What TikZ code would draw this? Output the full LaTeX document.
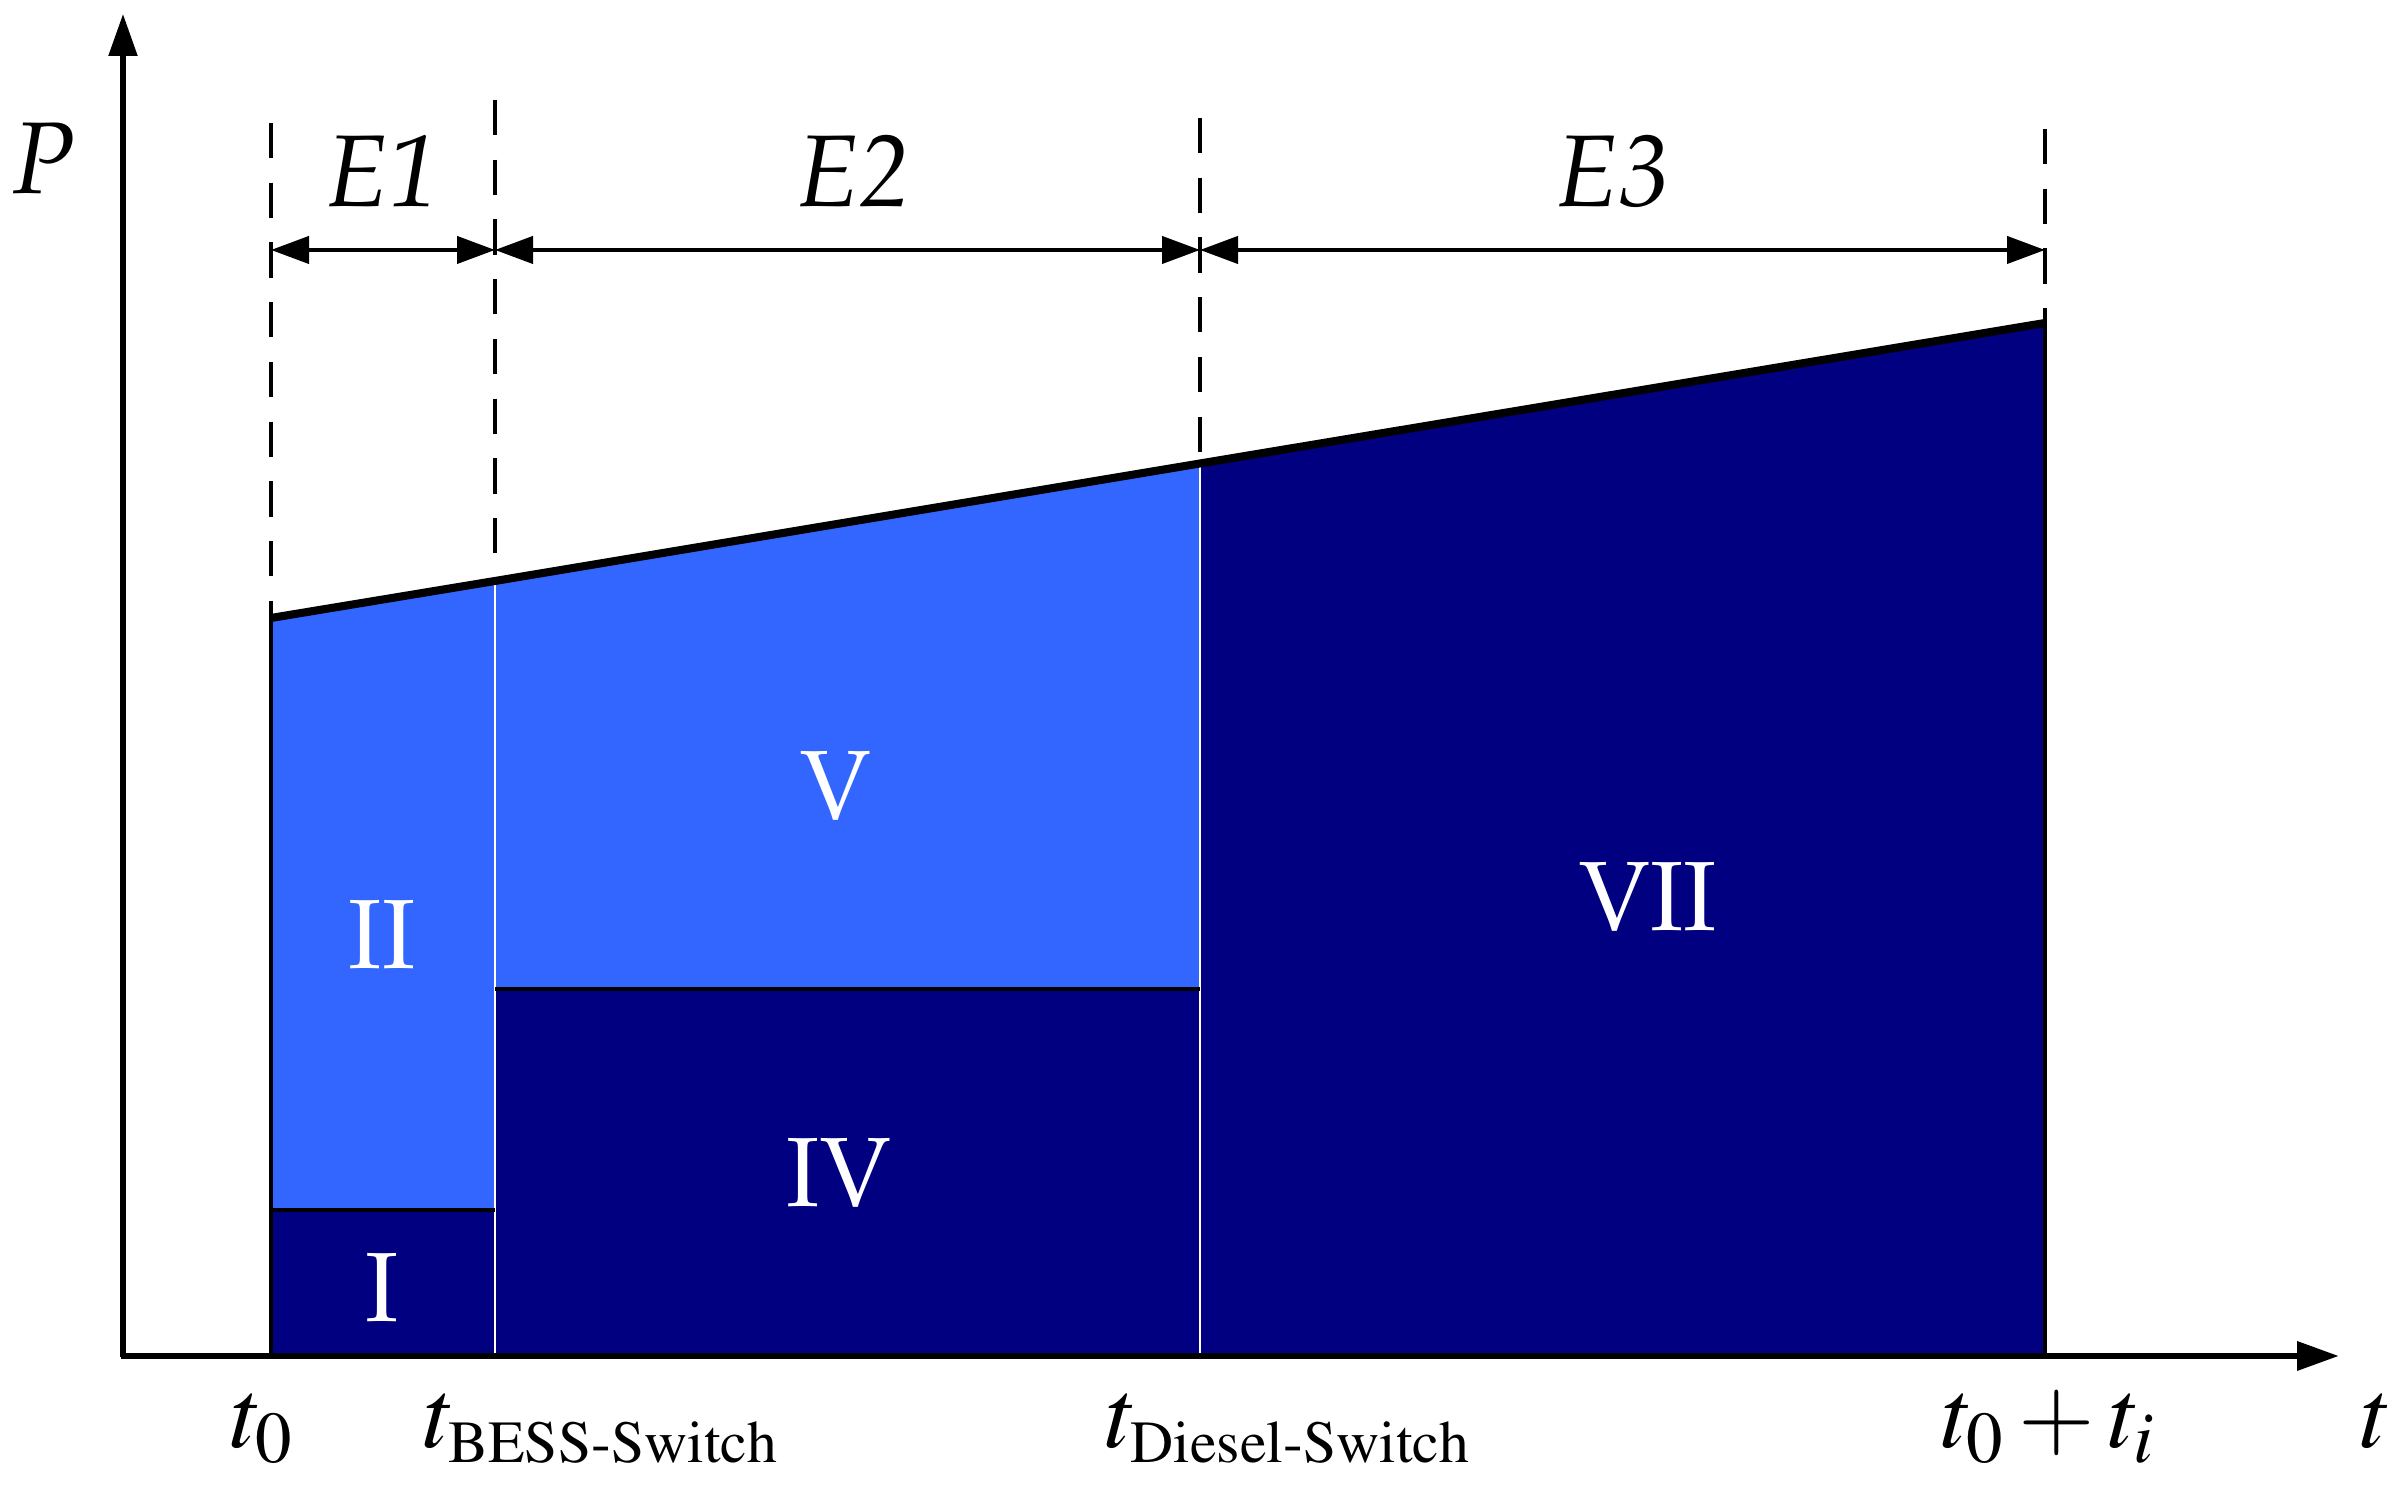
\documentclass[tikz,border=0pt]{standalone}
\usepackage[T1]{fontenc}
\usepackage{mathptmx}
\usepackage{amsmath}
\usepackage{tikz}
\usetikzlibrary{arrows.meta}

\definecolor{bessblue}{RGB}{51,102,255}
\definecolor{gennavy}{RGB}{0,0,128}
\newcommand{\pala}{\fontfamily{ppl}\selectfont}

\tikzset{
	axis/.style={line width=1.5pt,-{Triangle[length=0.42cm,width=0.28cm]}},
	span/.style={line width=1.2pt,{Triangle[length=0.38cm,width=0.27cm]}-{Triangle[length=0.38cm,width=0.27cm]}},
	guide/.style={line width=1.1pt,dash pattern=on 10pt off 7pt},
	region/.style={text=white,inner sep=0pt,font=\pala\fontsize{28}{34}\selectfont},
	elabel/.style={anchor=base,inner sep=0pt,font=\pala\itshape\fontsize{29}{35}\selectfont},
	tlabel/.style={anchor=base west,inner sep=0pt,font=\fontsize{28}{34}\selectfont}
}
\newcommand{\subtxt}[1]{\text{\fontsize{17}{20}\selectfont #1}}

\begin{document}
\begin{tikzpicture}[x=1cm,y=1cm]
		\useasboundingbox (0,0) rectangle (24.04,14.99);
		
		\coordinate (o) at (1.23,1.42);
		\coordinate (a0) at (2.71,1.42); \coordinate (a1) at (4.95,1.42); \coordinate (a2) at (12.00,1.42); \coordinate (a3) at (20.45,1.42);
		\coordinate (b0) at (2.71,8.81); \coordinate (b1) at (4.95,9.18); \coordinate (b2) at (12.00,10.355); \coordinate (b3) at (20.45,11.76);
		\coordinate (c0) at (2.71,2.89); \coordinate (c1) at (4.95,2.89);
		\coordinate (d1) at (4.95,5.10); \coordinate (d2) at (12.00,5.10);
		
		% shares of the load
		\fill[gennavy] (a0)--(a1)--(c1)--(c0)--cycle;
		\fill[bessblue] (c0)--(c1)--(b1)--(b0)--cycle;
		\fill[gennavy] (a1)--(a2)--(d2)--(d1)--cycle;
		\fill[bessblue] (d1)--(d2)--(b2)--(b1)--cycle;
		\fill[gennavy] (a2)--(a3)--(b3)--(b2)--cycle;
		
		\draw[white,line width=0.8pt] (a1)--(b1); \draw[white,line width=0.8pt] (a2)--(b2);
		\draw[line width=1.4pt] (c0)--(c1); \draw[line width=1.4pt] (d1)--(d2);
		\draw[line width=1.4pt] (a0)--(b0); \draw[line width=1.4pt] (a3)--(b3);
		\draw[line width=2.3pt] (b0)--(b1)--(b2)--(b3);
		
		\coordinate (g0) at (2.71,13.76); \coordinate (g1) at (4.95,13.99); \coordinate (g2) at (12.00,13.81); \coordinate (g3) at (20.45,13.70);
		\draw[guide] (g0)--(b0); \draw[guide] (g1)--(b1); \draw[guide] (g2)--(b2); \draw[guide] (g3)--(b3);
		
		\coordinate (s0) at (2.71,12.49); \coordinate (s1) at (4.95,12.49); \coordinate (s2) at (12.00,12.49); \coordinate (s3) at (20.45,12.49);
		\draw[span] (s0)--(s1); \draw[span] (s1)--(s2); \draw[span] (s2)--(s3);
		
		\coordinate (ytop) at (1.23,14.85); \coordinate (xend) at (23.39,1.43);
		\draw[axis] (o)--(ytop);
		\draw[axis,line width=1.9pt] (1.21,1.43)--(xend);
		
		\node (plbl) [elabel] at (0.44,13.05) {P};
		\node (e1) [elabel] at (3.83,12.92) {E1};
		\node (e2) [elabel] at (8.54,12.92) {E2};
		\node (e3) [elabel] at (16.13,12.92) {E3};
		
		\node (r1) [region] at (3.82,2.11) {I};
		\node (r2) [region] at (3.82,5.64) {II};
		\node (r4) [region] at (8.39,3.26) {IV};
		\node (r5) [region] at (8.36,7.13) {V};
		\node (r7) [region] at (16.48,6.02) {VII};
		
		\node (t0) [tlabel] at (2.30,0.51) {$t_0$};
		\node (tb) [tlabel] at (4.23,0.51) {$t_{\subtxt{BESS-Switch}}$};
		\node (td) [tlabel] at (11.05,0.51) {$t_{\subtxt{Diesel-Switch}}$};
		\node (te) [tlabel] at (19.41,0.51) {$t_0+t_i$};
		\node (tt) [tlabel] at (23.60,0.51) {$t$};
	\end{tikzpicture}
\end{document}
